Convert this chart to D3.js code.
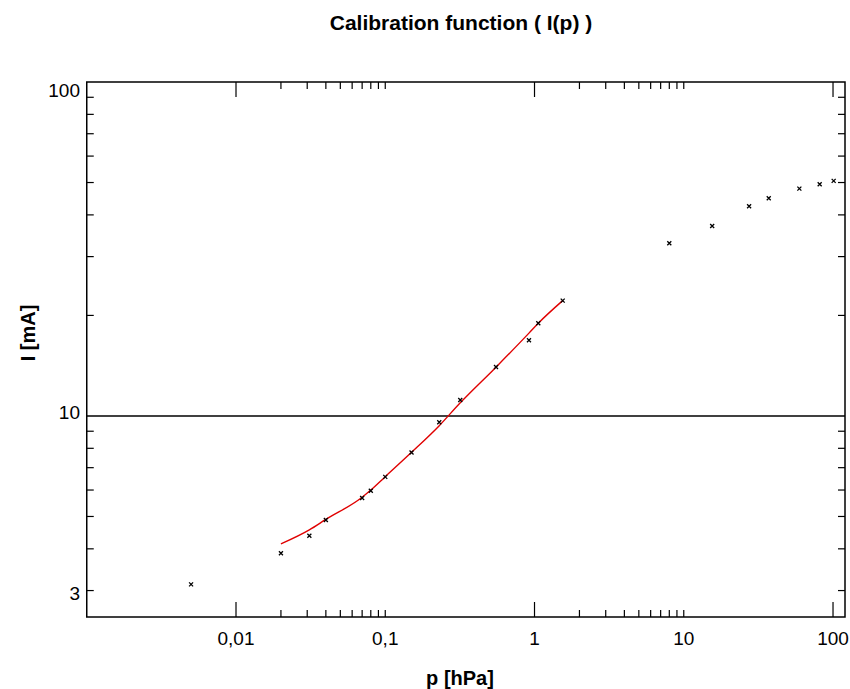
<!DOCTYPE html>
<html>
<head>
<meta charset="utf-8">
<script src="https://cdn.jsdelivr.net/npm/d3@7"></script>
<style>
  body { margin: 0; background: #fff; }
  text { font-family: "Liberation Sans", Arial, sans-serif; fill: #000; }
</style>
</head>
<body>
<svg id="chart" width="850" height="689"></svg>
<script>
// measured points (p in hPa, I in mA)
const pValues = [0.005, 0.02, 0.031, 0.04, 0.07, 0.08, 0.1, 0.15, 0.23, 0.318, 0.552, 0.918, 1.06, 1.545, 8.0, 15.5, 27.4, 37.1, 59.5, 81.4, 101];
const iValues = [3.13, 3.88, 4.38, 4.88, 5.68, 5.97, 6.57, 7.77, 9.57, 11.16, 14.02, 16.85, 18.95, 22.15, 32.9, 37.07, 42.45, 44.87, 47.95, 49.4, 50.56];

// fitted calibration curve
const fitP = [0.02, 0.031, 0.04, 0.07, 0.08, 0.1, 0.15, 0.23, 0.318, 0.552, 0.918, 1.06, 1.545];
const fitI = [4.14, 4.56, 4.9, 5.71, 6.0, 6.58, 7.78, 9.35, 10.95, 14.0, 17.7, 18.95, 22.15];

// axis ticks
const xLabels = [0.01, 0.1, 1, 10, 100];
const xLongTicks = [0.01, 1, 100];
const xShortTicks = [0.02, 0.03, 0.04, 0.05, 0.06, 0.07, 0.08, 0.09, 0.1, 2, 3, 4, 5, 6, 7, 8, 9, 10];
const yLabels = [3, 10, 100];
const yTicks = [3, 4, 5, 6, 7, 8, 9, 20, 30, 40, 50, 60, 70, 80, 90];

const svg = d3.select("#chart");
const pLeft = 86.75, pRight = 845, pTop = 82, pBottom = 617;

const x = d3.scaleLog().domain([0.001, 120.3]).range([pLeft, pRight]);
const y = d3.scaleLog().domain([2.5, 100]).range([pBottom, pTop]);

const fmt = (v) => String(v).replace(".", ",");

// gridline at 10 mA
svg.append("line")
  .attr("x1", pLeft).attr("x2", pRight)
  .attr("y1", y(10)).attr("y2", y(10))
  .attr("stroke", "#000").attr("stroke-width", 1.5);

// ticks bottom + top
const tickG = svg.append("g").attr("stroke", "#000").attr("stroke-width", 1.2);
xLongTicks.forEach((v) => {
  tickG.append("line").attr("x1", x(v)).attr("x2", x(v)).attr("y1", pBottom).attr("y2", pBottom - 15);
  tickG.append("line").attr("x1", x(v)).attr("x2", x(v)).attr("y1", pTop).attr("y2", pTop + 15);
});
xShortTicks.forEach((v) => {
  tickG.append("line").attr("x1", x(v)).attr("x2", x(v)).attr("y1", pBottom).attr("y2", pBottom - 7);
  tickG.append("line").attr("x1", x(v)).attr("x2", x(v)).attr("y1", pTop).attr("y2", pTop + 7);
});
// ticks left + right
yTicks.forEach((v) => {
  tickG.append("line").attr("x1", pLeft).attr("x2", pLeft + 7).attr("y1", y(v)).attr("y2", y(v));
  tickG.append("line").attr("x1", pRight).attr("x2", pRight - 7).attr("y1", y(v)).attr("y2", y(v));
});

// frame
svg.append("rect")
  .attr("x", pLeft).attr("y", pTop)
  .attr("width", pRight - pLeft).attr("height", pBottom - pTop)
  .attr("fill", "none").attr("stroke", "#000").attr("stroke-width", 1.5);

// tick labels
svg.selectAll(".xlab")
  .data(xLabels)
  .enter()
  .append("text")
  .attr("class", "xlab")
  .attr("x", (d) => x(d))
  .attr("y", 645)
  .attr("text-anchor", "middle")
  .attr("font-size", 19)
  .text(fmt);

svg.selectAll(".ylab")
  .data(yLabels)
  .enter()
  .append("text")
  .attr("class", "ylab")
  .attr("x", 80)
  .attr("y", (d) => y(d) + (d === 100 ? 15 : d === 10 ? 3 : 9))
  .attr("text-anchor", "end")
  .attr("font-size", 19)
  .text(fmt);

// fit curve
const fitData = fitP.map((p, i) => [p, fitI[i]]);
svg.append("path")
  .datum(fitData)
  .attr("fill", "none")
  .attr("stroke", "#e00000")
  .attr("stroke-width", 1.4)
  .attr("d", d3.line().curve(d3.curveMonotoneX).x((d) => x(d[0])).y((d) => y(d[1])));

// measured points as small crosses
const pts = pValues.map((p, i) => [p, iValues[i]]);
svg.selectAll(".pt")
  .data(pts)
  .enter()
  .append("path")
  .attr("class", "pt")
  .attr("transform", (d) => `translate(${x(d[0])},${y(d[1])})`)
  .attr("d", "M-2,-2L2,2M-2,2L2,-2")
  .attr("stroke", "#000")
  .attr("stroke-width", 1.3);

// titles
svg.append("text")
  .attr("x", 461).attr("y", 30)
  .attr("text-anchor", "middle")
  .attr("font-size", 21).attr("font-weight", "bold")
  .text("Calibration function ( I(p) )");

svg.append("text")
  .attr("x", 460).attr("y", 685)
  .attr("text-anchor", "middle")
  .attr("font-size", 20).attr("font-weight", "bold")
  .text("p [hPa]");

svg.append("text")
  .attr("transform", "translate(35,333) rotate(-90)")
  .attr("text-anchor", "middle")
  .attr("font-size", 20).attr("font-weight", "bold")
  .text("I [mA]");
</script>
</body>
</html>
